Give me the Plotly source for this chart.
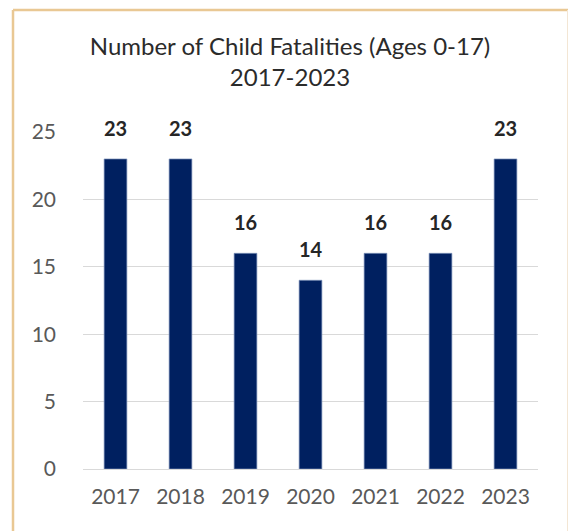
import plotly.graph_objects as go

years = ["2017", "2018", "2019", "2020", "2021", "2022", "2023"]
fatalities = [23, 23, 16, 14, 16, 16, 23]
y_ticks = [0, 5, 10, 15, 20, 25]
title_lines = ["Number of Child Fatalities (Ages 0-17)", "2017-2023"]

W, H = 569, 531
ml, mr, mt, mb = 83, 31, 132, 62
pw, ph = W - ml - mr, H - mt - mb

fig = go.Figure()
fig.add_trace(go.Bar(
    x=years, y=fatalities,
    marker=dict(color="#002060", line=dict(color="#7f93bb", width=0.7)),
    width=0.35,
    hoverinfo="x+y",
))

annotations = [
    dict(x=i, y=v, xref="x", yref="y", text=str(v), showarrow=False,
         yanchor="bottom", yshift=17,
         font=dict(family="Lato", size=20, color="#262626", weight="bold"))
    for i, v in enumerate(fatalities)
]

# decorative frame
def px_x(px):
    return (px - ml) / pw

def px_y(py):
    return (H - mb - py) / ph

frame = "#e9c894"
shapes = [
    dict(type="line", xref="paper", yref="paper", x0=px_x(13), x1=px_x(568),
         y0=px_y(10), y1=px_y(10), line=dict(color=frame, width=2.5)),
    dict(type="line", xref="paper", yref="paper", x0=px_x(13), x1=px_x(13),
         y0=px_y(10), y1=px_y(540), line=dict(color=frame, width=2.5)),
    dict(type="line", xref="paper", yref="paper", x0=px_x(567.5), x1=px_x(567.5),
         y0=px_y(10), y1=px_y(540), line=dict(color="#f3e6d4", width=1)),
]

fig.update_layout(
    width=W, height=H,
    margin=dict(l=ml, r=mr, t=mt, b=mb, autoexpand=False),
    paper_bgcolor="white", plot_bgcolor="white",
    showlegend=False,
    title=dict(
        text="<br>".join(title_lines),
        x=290 / W, xanchor="center", xref="container",
        y=1 - 55 / H, yanchor="top", yref="container",
        font=dict(family="Lato", size=24, color="#2b2b2b"),
    ),
    xaxis=dict(
        type="category", range=[-0.5, 6.5],
        showgrid=False, showline=False, ticks="",
        tickfont=dict(family="Lato", size=21, color="#595959"),
        ticklabelstandoff=13,
    ),
    yaxis=dict(
        range=[0, 25], tickvals=y_ticks,
        showgrid=True, gridcolor="#d9d9d9", gridwidth=1,
        zeroline=True, zerolinecolor="#d9d9d9", zerolinewidth=1,
        showline=False, ticks="",
        tickfont=dict(family="Lato", size=21, color="#595959"),
        ticklabelstandoff=26,
    ),
    annotations=annotations,
    shapes=shapes,
)

fig.write_html("out.html", config={"displayModeBar": False},
               post_script="document.body.style.margin='0px';")
